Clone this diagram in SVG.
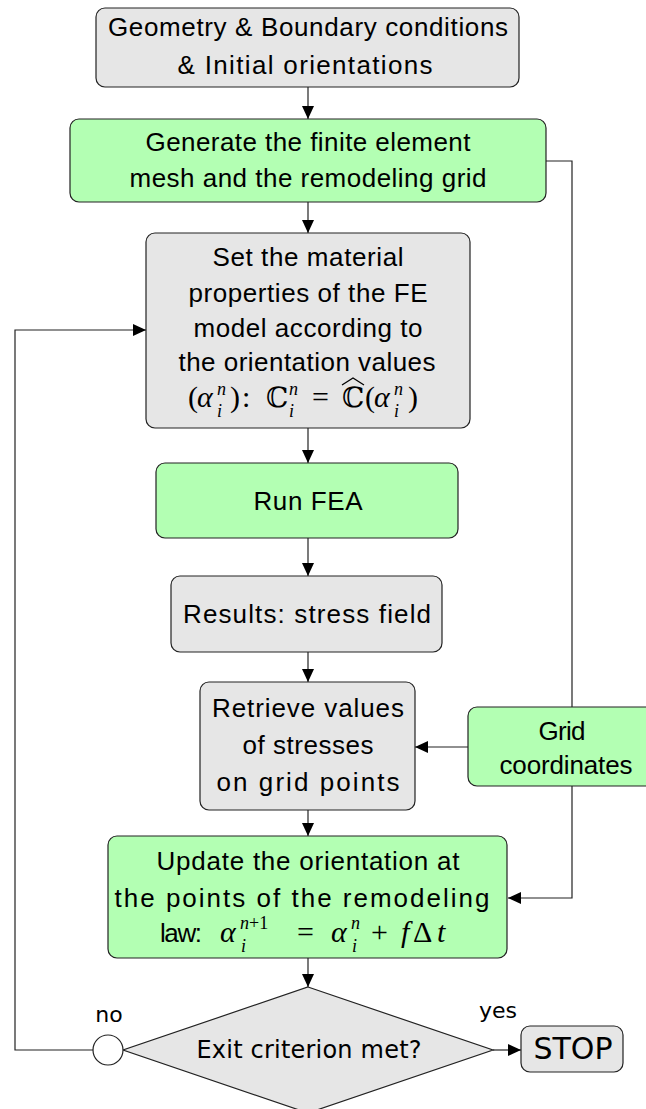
<svg xmlns="http://www.w3.org/2000/svg" width="646" height="1109" viewBox="0 0 646 1109">
<defs>
<style>
.box{stroke:#222;stroke-width:1.2}
.gray{fill:#e6e6e6}
.green{fill:#b3ffb3}
.t{font-family:"Liberation Sans",Arial,sans-serif;font-size:26px;fill:#000;text-anchor:middle}
.d{font-family:"DejaVu Sans",sans-serif;fill:#000;text-anchor:middle}
.m{font-family:"Liberation Serif","DejaVu Serif",serif;font-size:30px;fill:#000}
.mi{font-family:"Liberation Serif","DejaVu Serif",serif;font-size:30px;font-style:italic;fill:#000}
.s{font-family:"Liberation Serif","DejaVu Serif",serif;font-size:18px;font-style:italic;fill:#000}
.bb{font-family:"DejaVu Serif","DejaVu Sans",serif;font-size:28px;fill:#000}
.c{fill:none;stroke:#222;stroke-width:1.2}
</style>
<marker id="ah" markerWidth="14" markerHeight="12" refX="13" refY="6" orient="auto" markerUnits="userSpaceOnUse">
<path d="M0,0 L13,6 L0,12 Z" fill="#000"/>
</marker>
</defs>

<g id="connectors">
<path class="c" d="M308,87 V119" marker-end="url(#ah)"/>
<path class="c" d="M308,202 V233" marker-end="url(#ah)"/>
<path class="c" d="M308,428 V463" marker-end="url(#ah)"/>
<path class="c" d="M308,538 V576" marker-end="url(#ah)"/>
<path class="c" d="M308,652 V682" marker-end="url(#ah)"/>
<path class="c" d="M308,810 V836" marker-end="url(#ah)"/>
<path class="c" d="M308,958 V987" marker-end="url(#ah)"/>
<path class="c" d="M94,1050 H15 V330 H146" marker-end="url(#ah)"/>
<path class="c" d="M546,161 H572 V707"/>
<path class="c" d="M572,786 V898 H508" marker-end="url(#ah)"/>
<path class="c" d="M468,747 H415" marker-end="url(#ah)"/>
<path class="c" d="M493,1050 H521" marker-end="url(#ah)"/>
</g>

<g id="n1">
<rect class="box gray" x="96" y="8" width="423" height="79" rx="9"/>
<text class="t" x="308" y="36" textLength="400" lengthAdjust="spacing">Geometry &amp; Boundary conditions</text>
<text class="t" x="305" y="74" textLength="255" lengthAdjust="spacing">&amp; Initial orientations</text>
</g>

<g id="n2">
<rect class="box green" x="70" y="119" width="476" height="83" rx="9"/>
<text class="t" x="308" y="151" textLength="325" lengthAdjust="spacing">Generate the finite element</text>
<text class="t" x="308" y="187" textLength="357" lengthAdjust="spacing">mesh and the remodeling grid</text>
</g>

<g id="n3">
<rect class="box gray" x="146" y="233" width="324" height="195" rx="9"/>
<text class="t" x="308" y="266" textLength="191" lengthAdjust="spacing">Set the material</text>
<text class="t" x="308" y="302" textLength="239" lengthAdjust="spacing">properties of the FE</text>
<text class="t" x="308" y="337" textLength="229" lengthAdjust="spacing">model according to</text>
<text class="t" x="307" y="371" textLength="257" lengthAdjust="spacing">the orientation values</text>
<text class="m" x="188" y="407">(</text>
<text class="mi" x="197" y="407">α</text>
<text class="s" x="217" y="395">n</text>
<text class="s" x="217" y="417">i</text>
<text class="m" x="230" y="407">)</text>
<text class="m" x="242" y="407">:</text>
<text class="bb" x="266" y="407">ℂ</text>
<text class="s" x="289" y="395">n</text>
<text class="s" x="289" y="417">i</text>
<text class="m" x="312" y="407">=</text>
<text class="bb" x="342" y="407">ℂ</text>
<path d="M342,385 L353,378 L364,385" fill="none" stroke="#000" stroke-width="1.3"/>
<text class="m" x="365" y="407">(</text>
<text class="mi" x="374" y="407">α</text>
<text class="s" x="394" y="395">n</text>
<text class="s" x="394" y="417">i</text>
<text class="m" x="408" y="407">)</text>
</g>

<g id="n4">
<rect class="box green" x="156" y="463" width="302" height="75" rx="9"/>
<text class="t" x="308" y="510" textLength="109" lengthAdjust="spacing">Run FEA</text>
</g>

<g id="n5">
<rect class="box gray" x="171" y="576" width="271" height="76" rx="9"/>
<text class="t" x="307" y="623" textLength="248" lengthAdjust="spacing">Results: stress field</text>
</g>

<g id="n6">
<rect class="box gray" x="200" y="682" width="215" height="128" rx="9"/>
<text class="t" x="308" y="717" textLength="192" lengthAdjust="spacing">Retrieve values</text>
<text class="t" x="308" y="754" textLength="131" lengthAdjust="spacing">of stresses</text>
<text class="t" x="308" y="791" textLength="183" lengthAdjust="spacing">on grid points</text>
</g>

<g id="n7">
<rect class="box green" x="468" y="707" width="196" height="79" rx="9"/>
<text class="t" x="562" y="740" textLength="47" lengthAdjust="spacing">Grid</text>
<text class="t" x="566" y="774" textLength="133" lengthAdjust="spacing">coordinates</text>
</g>

<g id="n8">
<rect class="box green" x="108" y="836" width="399" height="122" rx="9"/>
<text class="t" x="308" y="870" textLength="303" lengthAdjust="spacing">Update the orientation at</text>
<text class="t" x="302" y="907" textLength="375" lengthAdjust="spacing">the points of the remodeling</text>
<text class="t" x="181" y="942" textLength="42" lengthAdjust="spacing">law:</text>
<text class="mi" x="220" y="942">α</text>
<text class="s" x="240" y="929">n<tspan font-style="normal">+1</tspan></text>
<text class="s" x="241" y="952">i</text>
<text class="m" x="297" y="942">=</text>
<text class="mi" x="331" y="942">α</text>
<text class="s" x="351" y="929">n</text>
<text class="s" x="352" y="952">i</text>
<text class="m" x="371" y="942">+</text>
<text class="mi" x="401" y="942">f</text>
<text class="m" x="413" y="942">Δ</text>
<text class="mi" x="437" y="942">t</text>
</g>

<g id="decision">
<polygon class="box gray" points="308,987 493,1050 308,1113 123,1050"/>
<text class="d" x="309" y="1058" font-size="24" textLength="225" lengthAdjust="spacing">Exit criterion met?</text>
</g>

<g id="no">
<circle cx="108" cy="1050" r="15" fill="#fff" stroke="#222" stroke-width="1.2"/>
<text class="d" x="109" y="1022" font-size="22">no</text>
</g>

<g id="yes">
<text class="d" x="498" y="1018" font-size="22">yes</text>
</g>

<g id="stop">
<rect class="box gray" x="521" y="1026" width="102" height="46" rx="9"/>
<text class="d" x="573" y="1059" font-size="30">STOP</text>
</g>
</svg>
